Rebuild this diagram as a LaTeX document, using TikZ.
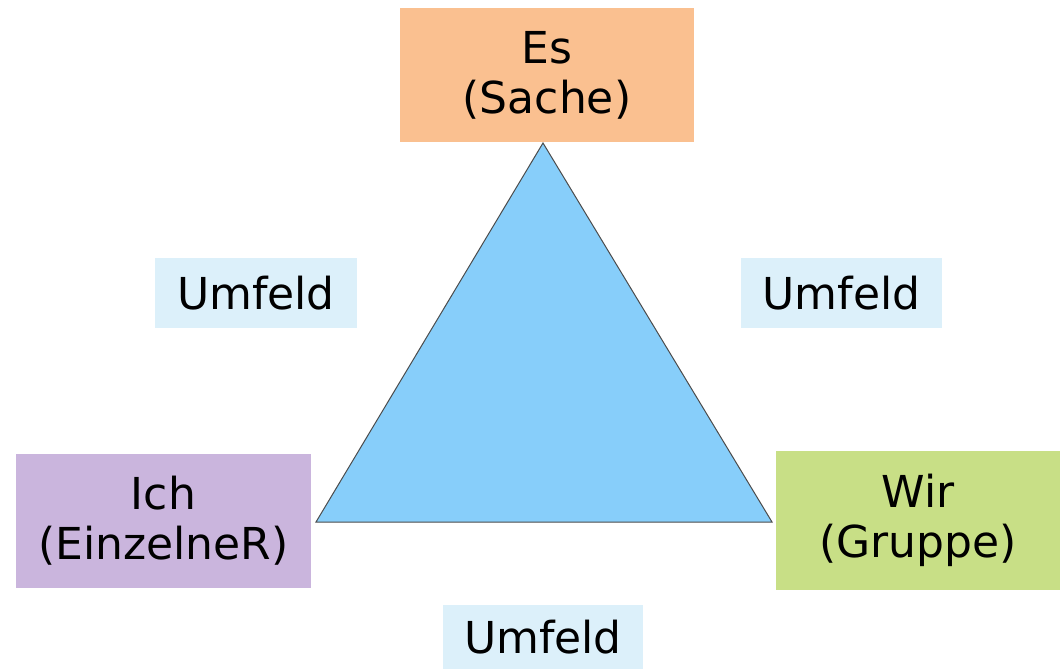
\documentclass[tikz,border=0pt]{standalone}
\usepackage{fontspec}
\setmainfont{DejaVu Sans}
\begin{document}
\definecolor{esc}{HTML}{FAC090}
\definecolor{ichc}{HTML}{CAB5DD}
\definecolor{wirc}{HTML}{C8DF86}
\definecolor{tric}{HTML}{87CEFA}
\definecolor{umc}{HTML}{DCF0FA}
\begin{tikzpicture}[x=1pt,y=-1pt]
\tikzset{
  box/.style={inner sep=0pt, align=center, font=\fontsize{44}{50}\selectfont},
  umbox/.style={fill=umc, inner sep=0pt, font=\fontsize{44}{50}\selectfont}
}
\useasboundingbox (0,0) rectangle (1062,669);
\fill[white] (0,0) rectangle (1062,669);
% boxes
\fill[esc] (400,8) rectangle (694,142);
\node[box] (es) at (547,75) {Es\\(Sache)};
\fill[ichc] (16,454) rectangle (311,588);
\node[box] (ich) at (163.5,521) {Ich\\(EinzelneR)};
\fill[wirc] (776,451) rectangle (1060,590);
\node[box] (wir) at (918,520) {Wir\\(Gruppe)};
% triangle
\coordinate (apex) at (543,143);
\coordinate (bl) at (316,522);
\coordinate (br) at (772,522);
\draw[fill=tric, draw=black!70, line width=1pt, line join=miter] (apex) -- (bl) -- (br) -- cycle;
% Umfeld
\fill[umc] (155,258) rectangle (357,328);
\node[box] (u1) at (256,293) {Umfeld};
\fill[umc] (741,258) rectangle (942,328);
\node[box] (u2) at (841.5,293) {Umfeld};
\fill[umc] (443,605) rectangle (643,669);
\node[box] (u3) at (543,637) {Umfeld};
\end{tikzpicture}
\end{document}
